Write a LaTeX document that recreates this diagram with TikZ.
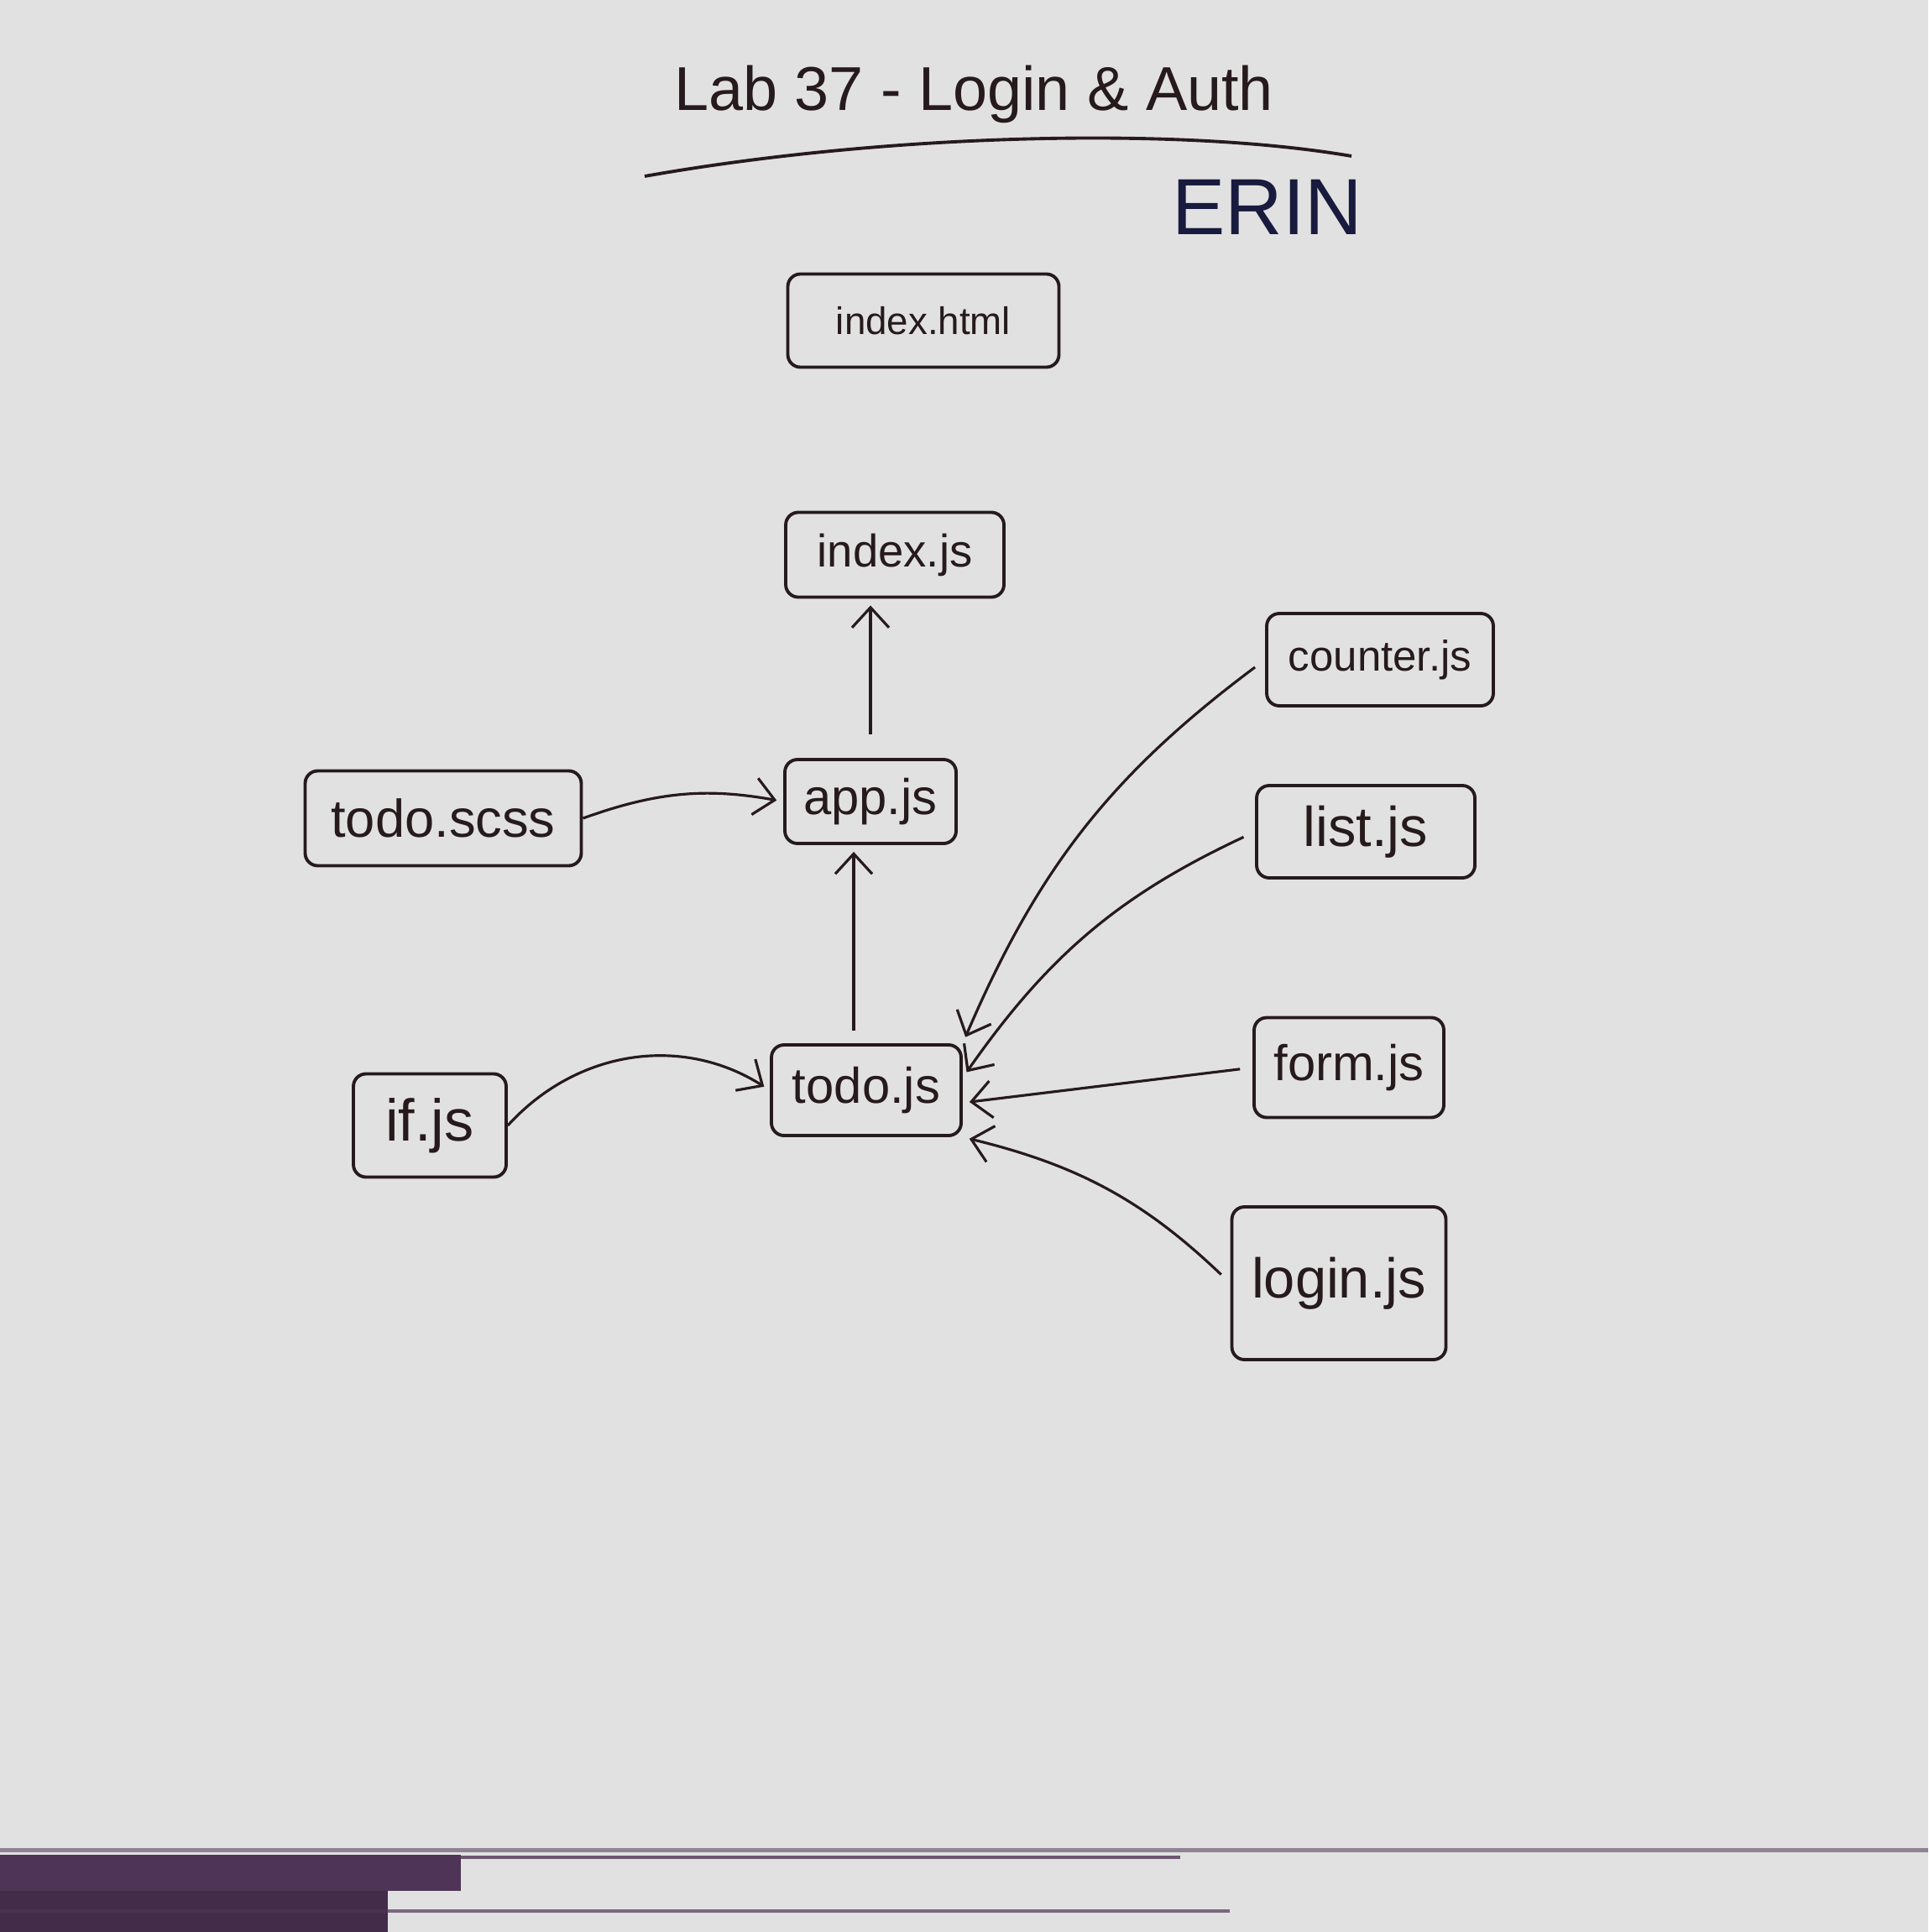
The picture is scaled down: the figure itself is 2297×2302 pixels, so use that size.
\documentclass[tikz,border=0pt]{standalone}
\usepackage{fontspec}
\setmainfont{Liberation Sans}
\usetikzlibrary{arrows.meta}
\definecolor{ink}{RGB}{38,26,28}
\definecolor{paper}{RGB}{225,225,225}
\definecolor{marker}{RGB}{24,26,62}
\definecolor{scanline}{RGB}{78,52,86}
\tikzset{
  fs/.style={font=\fontsize{#1}{#1}\selectfont},
  file/.style={draw=ink, line width=1.1pt, rounded corners=1.5mm, inner sep=0pt, text=ink, fs=17},
  dep/.style={draw=ink, line width=0.9pt, -{Straight Barb[length=2.4mm,width=4.4mm]}, shorten <=1.5mm, shorten >=0.8mm},
}

\begin{document}
\begin{tikzpicture}[x=0.1mm, y=-0.1mm]
\useasboundingbox (0,0) rectangle (2297,2302);
\fill[paper] (0,0) rectangle (2297,2302);

% heading
\node[text=ink, fs=21] (title) at (1160,112) {Lab 37 - Login \& Auth};
\draw[ink, line width=1.1pt] (768,210) .. controls (1050,160) and (1400,150) .. (1610,186);
\node[text=marker, fs=27] (erin) at (1510,247) {ERIN};

% files
\node[file, minimum width=32.3mm, minimum height=11.1mm, fs=13] (html) at (1100,382) {index.html};
\node[file, minimum width=26mm, minimum height=10.1mm, fs=15.5] (index) at (1066,661) {index.js};
\node[file, minimum width=20.4mm, minimum height=10mm] (app) at (1037,955) {app.js};
\node[file, minimum width=32.9mm, minimum height=11.3mm, fs=18] (scss) at (528,975) {todo.scss};
\node[file, minimum width=22.6mm, minimum height=10.8mm] (todo) at (1032,1299) {todo.js};
\node[file, minimum width=18.2mm, minimum height=12.3mm, fs=20] (if) at (512,1341) {if.js};
\node[file, minimum width=27mm, minimum height=11mm, fs=14.5] (counter) at (1644,786) {counter.js};
\node[file, minimum width=26mm, minimum height=11mm, fs=19] (list) at (1627,991) {list.js};
\node[file, minimum width=22.6mm, minimum height=11.9mm] (form) at (1607,1272) {form.js};
\node[file, minimum width=25.5mm, minimum height=18.2mm, fs=19] (login) at (1595,1529) {login.js};

% dependencies
\draw[dep, shorten <=2.8mm] (app.north) -- (app.north |- index.south);
\draw[dep] ([xshift=-1.5mm]todo.north) -- ([xshift=-1.5mm]todo.north |- app.south);
\draw[dep, shorten <=0pt] (scss.east) to[bend left=15] (app.west);
\draw[dep, shorten <=0pt] (if.east) to[bend left=40] (todo.west);
\draw[dep] (counter.west) to[bend right=15] (todo.north east);
\draw[dep] (list.west) to[bend right=15] ([yshift=1.5mm]todo.east);
\draw[dep] (form.west) -- ([yshift=-1.5mm]todo.east);
\draw[dep] (login.west) to[bend right=15] (todo.south east);

% scanner edge
\fill[scanline, opacity=0.55] (0,2202) rectangle (2297,2207);
\fill[scanline] (0,2210) rectangle (549,2253);
\fill[scanline!85!black] (0,2253) rectangle (462,2302);
\draw[scanline, line width=1.2pt, opacity=0.8] (0,2213) -- (1406,2213);
\draw[scanline, line width=1pt, opacity=0.7] (0,2277) -- (1465,2277);
\end{tikzpicture}
\end{document}
